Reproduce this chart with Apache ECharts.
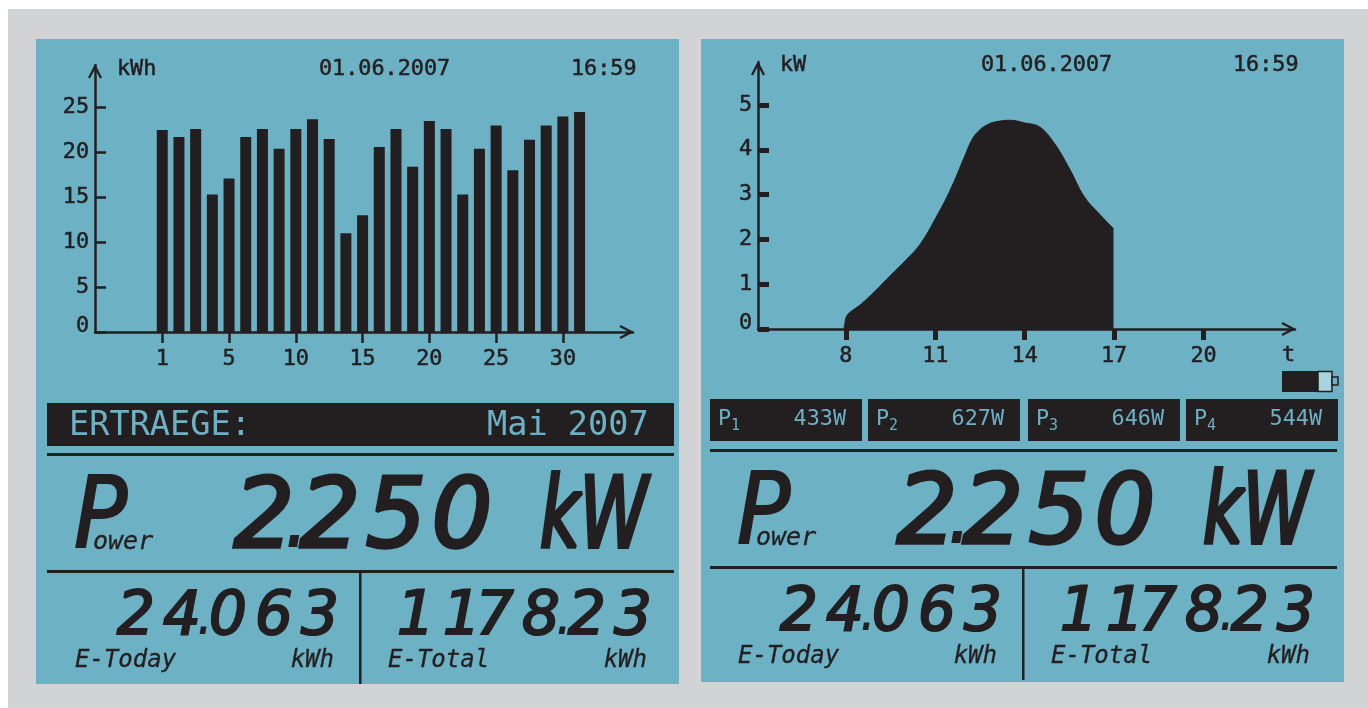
<!DOCTYPE html>
<html>
<head>
<meta charset="utf-8">
<script src="https://cdn.jsdelivr.net/npm/echarts@6/dist/echarts.min.js"></script>
<style>
  html, body { margin: 0; background: #fff; }
  #main { width: 1368px; height: 708px; }
</style>
</head>
<body>
<div id="main"></div>
<script>
// daily yield bars, May 2007 (the display squeezes the day scale, ticks are every 4th slot)
const barValues = [22.5, 21.7, 22.6, 15.3, 17.1, 21.7, 22.6, 20.4, 22.6, 23.7, 21.5, 11, 13,
  20.6, 22.6, 18.4, 23.5, 22.6, 15.3, 20.4, 23, 18, 21.4, 23, 24, 24.5];
const dayTickSlots = [1, 5, 9, 13, 17, 21, 25];
const dayTickLabels = ['1', '5', '10', '15', '20', '25', '30'];
const kwhTicks = [0, 5, 10, 15, 20, 25];

// power curve of the day
const powerHours = [7.93, 7.97, 8, 8.07, 8.17, 8.5, 9, 9.5, 10, 10.5, 11, 11.5, 12, 12.25, 12.5, 12.75, 13, 13.5, 14, 14.5, 15, 15.5, 16, 16.5, 16.98];
const powerKw = [0, 0.14, 0.25, 0.33, 0.39, 0.55, 0.86, 1.2, 1.53, 1.9, 2.46, 3.1, 3.88, 4.25, 4.45, 4.56, 4.62, 4.66, 4.6, 4.51, 4.14, 3.58, 2.95, 2.57, 2.24];
const hourTicks = [8, 11, 14, 17, 20];
const kwTicks = [0, 1, 2, 3, 4, 5];

const stringNames = ['1', '2', '3', '4'];
const stringWatts = ['433W', '627W', '646W', '544W'];

const INK = '#231f20';
const LCD = '#6db1c5';
const MONO = '"DejaVu Sans Mono"';
const SEG = '"DejaVu Sans Condensed"';
const ARROW = 'path://M0 12 L6.2 0 L7.8 0 L14 12 L12 13 L7 3.5 L2 13 Z';

function txt(text, x, y, size, opts) {
  return {
    type: 'text', x: x, y: y, silent: true, z: 20,
    style: Object.assign({
      text: text, fontFamily: MONO, fontSize: size, fill: INK,
      align: 'left', verticalAlign: 'middle'
    }, opts || {})
  };
}
function box(x, y, w, h, fill, stroke) {
  return {
    type: 'rect', silent: true, z: stroke ? 21 : 1,
    shape: { x: x, y: y, width: w, height: h },
    style: { fill: fill, stroke: stroke || null, lineWidth: stroke ? 1.5 : 0 }
  };
}

// segment-display style number, walks from the right cell to the left
function lcdNumber(str, lastCenter, y, pitch, size, out) {
  let cx = lastCenter;
  const seg = { fontFamily: SEG, fontStyle: 'italic', align: 'center', stroke: INK, lineWidth: size * 0.035 };
  for (let i = str.length - 1; i >= 0; i--) {
    const ch = str[i];
    if (ch === '.') {
      out.push(txt('.', cx + pitch * 0.5, y, size, { fontFamily: SEG, fontStyle: 'italic', align: 'center' }));
      continue;
    }
    const digit = txt(ch, cx + (ch === '1' ? pitch * 0.28 : 0), y, size, seg);
    digit.scaleX = 1.1;
    out.push(digit);
    cx -= pitch;
  }
}

// lower half of one display, same on both with an offset
function lowerBlock(dx, dy, out) {
  const label = { fontStyle: 'italic', stroke: INK, lineWidth: 0.3 };
  out.push(box(47 + dx, 453 + dy, 627, 3, INK));
  out.push(box(47 + dx, 570 + dy, 627, 3, INK));
  out.push(box(359 + dx, 571 + dy, 2.5, 113, INK));
  out.push(txt('P', 74 + dx, 522 + dy, 98, { fontFamily: SEG, fontStyle: 'italic', stroke: INK, lineWidth: 2 }));
  out.push(txt('ower', 93 + dx, 542 + dy, 25, label));
  lcdNumber('2.250', 462 + dx, 522 + dy, 66, 96, out);
  const unit = txt('kW', 540 + dx, 522 + dy, 98, { fontFamily: SEG, fontStyle: 'italic', stroke: INK, lineWidth: 4 });
  unit.scaleX = 0.78;
  out.push(unit);
  lcdNumber('24.063', 320 + dx, 618 + dy, 46, 60, out);
  lcdNumber('1178.23', 633 + dx, 618 + dy, 46, 60, out);
  out.push(txt('E-Today', 75 + dx, 661 + dy, 24, label));
  out.push(txt('kWh', 334 + dx, 661 + dy, 24, Object.assign({ align: 'right' }, label)));
  out.push(txt('E-Total', 388 + dx, 661 + dy, 24, label));
  out.push(txt('kWh', 647 + dx, 661 + dy, 24, Object.assign({ align: 'right' }, label)));
}

const heavy = { stroke: INK, lineWidth: 0.5 };
const graphics = [
  box(8, 9, 1360, 699, '#d1d3d4'),
  box(36, 39, 643, 645, LCD),
  box(701, 39, 643, 643, LCD),
  // headers
  txt('kWh', 117, 69, 21.8, heavy),
  txt('01.06.2007', 319, 69, 21.8, heavy),
  txt('16:59', 571, 69, 21.8, heavy),
  txt('kW', 780, 65, 21.8, heavy),
  txt('01.06.2007', 981, 65, 21.8, heavy),
  txt('16:59', 1233, 65, 21.8, heavy),
  txt('t', 1282, 355, 21.8, heavy),
  // month banner
  box(47, 403, 627, 43, INK),
  txt('ERTRAEGE:', 69, 426, 33.6, { fill: LCD }),
  txt('Mai 2007', 487, 426, 33.6, { fill: LCD }),
  // battery
  box(1282, 371, 36, 21, INK),
  box(1318, 371.5, 14, 20, '#a8d3de', INK),
  box(1332, 377, 6, 8, LCD, INK)
];
const stringX = [710, 868, 1028, 1186];
stringNames.forEach(function (name, i) {
  graphics.push(box(stringX[i], 399, 152, 42, INK));
  graphics.push(txt('P', stringX[i] + 8, 419, 21.8, { fill: LCD }));
  graphics.push(txt(name, stringX[i] + 21, 426, 15, { fill: LCD }));
  graphics.push(txt(stringWatts[i], stringX[i] + 136, 419, 21.8, { fill: LCD, align: 'right' }));
});
lowerBlock(0, 0, graphics);
lowerBlock(663, -4, graphics);

function yAxisFor(gridIndex, max, ticks, tickWidth) {
  return {
    type: 'value', gridIndex: gridIndex, min: 0, max: max, z: 10, splitLine: { show: false },
    axisLine: { show: true, onZero: false, symbol: ['none', ARROW], symbolSize: [14, 13], symbolOffset: [0, -7], lineStyle: { color: INK, width: 2.5 } },
    axisTick: { show: true, inside: true, length: 11, customValues: ticks, lineStyle: { color: INK, width: tickWidth } },
    axisLabel: {
      customValues: ticks, color: INK, fontFamily: MONO, fontSize: 21.8, margin: 6, lineHeight: 12,
      textBorderColor: INK, textBorderWidth: 0.5, verticalAlignMinLabel: 'bottom'
    }
  };
}
function xAxisFor(gridIndex, min, max, ticks, tickWidth, fmt) {
  return {
    type: 'value', gridIndex: gridIndex, min: min, max: max, z: 10, splitLine: { show: false },
    axisLine: { show: true, onZero: false, symbol: ['none', ARROW], symbolSize: [14, 13], symbolOffset: [0, -7], lineStyle: { color: INK, width: 2.5 } },
    axisTick: { show: true, length: 11, customValues: ticks, lineStyle: { color: INK, width: tickWidth } },
    axisLabel: {
      customValues: ticks, color: INK, fontFamily: MONO, fontSize: 21.8, margin: 16,
      textBorderColor: INK, textBorderWidth: 0.5, formatter: fmt
    }
  };
}

const chart = echarts.init(document.getElementById('main'));
chart.setOption({
  animation: false,
  backgroundColor: '#fff',
  graphic: graphics,
  grid: [
    { left: 95, right: 735, top: 65, bottom: 376 },
    { left: 758, right: 73, top: 62, bottom: 379 }
  ],
  xAxis: [
    xAxisFor(0, -3.03, 29.2, dayTickSlots, 2.5, function (v) { return dayTickLabels[dayTickSlots.indexOf(v)]; }),
    xAxisFor(1, 5.05, 23.07, hourTicks, 5, function (v) { return String(v); })
  ],
  yAxis: [
    yAxisFor(0, 29.73, kwhTicks, 2.5),
    yAxisFor(1, 5.96, kwTicks, 5)
  ],
  series: [
    {
      type: 'bar', xAxisIndex: 0, yAxisIndex: 0, barWidth: 11, z: 5,
      itemStyle: { color: INK },
      data: barValues.map(function (v, i) { return [i + 1, v]; })
    },
    {
      type: 'line', xAxisIndex: 1, yAxisIndex: 1, smooth: 0.4, showSymbol: false, z: 5,
      lineStyle: { color: INK, width: 1 },
      areaStyle: { color: INK, opacity: 1 },
      data: powerHours.map(function (h, i) { return [h, powerKw[i]]; })
    }
  ]
});
</script>
</body>
</html>
